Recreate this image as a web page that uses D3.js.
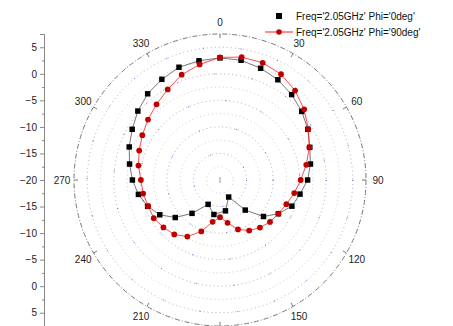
<!DOCTYPE html>
<html>
<head>
<meta charset="utf-8">
<script src="https://cdn.jsdelivr.net/npm/d3@7"></script>
<style>
  body { margin: 0; background: #fff; }
  svg { display: block; font-family: "Liberation Sans", Arial, sans-serif; }
</style>
</head>
<body>
<svg id="chart" width="453" height="326"></svg>
<script>
// angle in degrees (clockwise from top), gain in dB
var blackAngles = [0, 10, 20, 30, 40, 50, 60, 70, 80, 90, 100, 110, 120, 130, 140, 153, 170, 190, 206,
  220, 230, 240, 250, 260, 270, 280, 290, 300, 310, 320, 330, 340, 350];
var blackValues = [3.0, 2.9, 2.4, 1.8, 1.0, 0.1, -0.9, -2.0, -2.7, -3.5, -4.7, -5.6, -7.3, -9.3, -12.6, -16.4, -14.1, -13.4, -14.9,
  -11.8, -9.0, -6.9, -5.5, -4.4, -3.5, -2.7, -1.8, -0.9, 0.2, 1.2, 1.9, 2.6, 2.8];

var redAngles = [0, 10, 20, 30, 40, 50, 60, 70, 80, 90, 100, 110, 120, 130, 140, 150, 160, 170, 180,
  190, 200, 210, 220, 230, 240, 250, 260, 270, 280, 290, 300, 310, 320, 330, 340, 350];
var redValues = [3.1, 3.5, 3.5, 3.0, 2.0, 0.7, -0.8, -2.1, -3.5, -4.8, -5.8, -6.7, -7.3, -7.7, -8.3, -9.0, -10.1, -11.8, -13.0,
  -12.0, -9.7, -7.7, -6.6, -6.1, -5.6, -5.6, -5.3, -5.1, -4.4, -3.8, -3.1, -2.3, -1.4, -0.3, 1.1, 2.1];

var angleTicks = [0, 30, 60, 90, 120, 150, 180, 210, 240, 270, 300, 330];
var angleLabels = [0, 30, 60, 90, 120, 150, 210, 240, 270, 300, 330]; // 180 falls below the frame
var gridValues = [-17.5, -15, -12.5, -10, -7.5, -5, -2.5, 0, 2.5, 5];
var axisTicksTop = [5, 0, -5, -10, -15, -20];
var axisTicksBottom = [-15, -10, -5, 0, 5];
var seriesNames = ["Freq='2.05GHz' Phi='0deg'", "Freq='2.05GHz' Phi='90deg'"];

var svg = d3.select("#chart");
var cx = 220, cy = 180, R = 146;

var r = d3.scaleLinear().domain([-20, 7.5]).range([0, R]);
var rad = function (deg) { return deg * Math.PI / 180; };

var g = svg.append("g").attr("transform", "translate(" + cx + "," + cy + ")");

// grid circles
g.selectAll(".grid").data(gridValues).enter().append("circle")
  .attr("r", function (d) { return r(d); })
  .attr("fill", "none")
  .attr("stroke", function (d) { return d % 5 === 0 ? "#999" : "#bbb"; })
  .attr("stroke-width", 0.8)
  .attr("stroke-dasharray", "1,3");

// a few blue dots on the major circles
g.selectAll(".gridb").data(gridValues.filter(function (d) { return d % 5 === 0; })).enter().append("circle")
  .attr("r", function (d) { return r(d); })
  .attr("fill", "none")
  .attr("stroke", "#4455ee")
  .attr("stroke-width", 1)
  .attr("stroke-dasharray", "1,37");

// outer circle
g.append("circle")
  .attr("r", R)
  .attr("fill", "none")
  .attr("stroke", "#777")
  .attr("stroke-width", 1)
  .attr("stroke-dasharray", "5,2,1,2");

// angular ticks
g.selectAll(".atick").data(angleTicks).enter().append("line")
  .attr("x1", function (d) { return Math.sin(rad(d)) * (R - 4); })
  .attr("y1", function (d) { return -Math.cos(rad(d)) * (R - 4); })
  .attr("x2", function (d) { return Math.sin(rad(d)) * R; })
  .attr("y2", function (d) { return -Math.cos(rad(d)) * R; })
  .attr("stroke", "#777");

// angular labels
g.selectAll(".alabel").data(angleLabels).enter().append("text")
  .attr("x", function (d) { return Math.sin(rad(d)) * 158; })
  .attr("y", function (d) { return -Math.cos(rad(d)) * 158; })
  .attr("text-anchor", "middle")
  .attr("dy", "0.35em")
  .attr("font-size", 10)
  .attr("fill", "#222")
  .text(function (d) { return d; });

// center mark
g.append("line").attr("x1", 0).attr("x2", 0).attr("y1", -3).attr("y2", 3).attr("stroke", "#999");

// series
function drawSeries(angles, values, lineColor, fillColor, shape) {
  var pts = angles.map(function (a, i) { return [rad(a), r(values[i])]; });
  var line = d3.lineRadial()
    .angle(function (d) { return d[0]; })
    .radius(function (d) { return d[1]; })
    .curve(d3.curveLinearClosed);
  g.append("path")
    .attr("d", line(pts))
    .attr("fill", "none")
    .attr("stroke", lineColor)
    .attr("stroke-width", 0.8);
  var sym = d3.symbol().type(shape).size(shape === d3.symbolSquare ? 30 : 26);
  g.selectAll(null).data(pts).enter().append("path")
    .attr("d", sym)
    .attr("transform", function (d) {
      return "translate(" + (Math.sin(d[0]) * d[1]) + "," + (-Math.cos(d[0]) * d[1]) + ")";
    })
    .attr("fill", fillColor);
}
drawSeries(blackAngles, blackValues, "#555", "#000", d3.symbolSquare);
drawSeries(redAngles, redValues, "#ff2020", "#c00000", d3.symbolCircle);

// radial axis on the left (mirrored)
var axisX = 44;
var yTop = d3.scaleLinear().domain([-20, 7.5]).range([cy, cy - R]);
var yBot = d3.scaleLinear().domain([-20, 7.5]).range([cy, cy + R]);

function drawAxis(scale, ticks, minor) {
  var a = svg.append("g").attr("transform", "translate(" + axisX + ",0)");
  a.call(d3.axisLeft(scale).tickValues(ticks).tickSize(4).tickPadding(3).tickFormat(d3.format("d")));
  a.append("g").call(d3.axisLeft(scale).tickValues(minor).tickSize(2).tickFormat(""));
  a.selectAll("path.domain").attr("stroke", "#888");
  a.selectAll("line").attr("stroke", "#888");
  a.selectAll("text").attr("font-size", 10).attr("fill", "#222")
    .attr("font-family", "'Liberation Sans', Arial, sans-serif");
}
drawAxis(yTop, axisTicksTop, [7.5, 2.5, -2.5, -7.5, -12.5, -17.5]);
drawAxis(yBot, axisTicksBottom, [-17.5, -12.5, -7.5, -2.5, 2.5, 7.5]);

// legend
var legend = svg.append("g").attr("transform", "translate(265,16)");
legend.append("rect").attr("x", 11).attr("y", -3).attr("width", 6).attr("height", 6).attr("fill", "#000");
legend.append("text").attr("x", 31).attr("y", 0).attr("dy", "0.35em")
  .attr("font-size", 10).attr("fill", "#111").text(seriesNames[0]);
legend.append("line").attr("x1", 0).attr("x2", 28).attr("y1", 16).attr("y2", 16)
  .attr("stroke", "#ff2020").attr("stroke-width", 1);
legend.append("circle").attr("cx", 14).attr("cy", 16).attr("r", 2.8).attr("fill", "#c00000");
legend.append("text").attr("x", 31).attr("y", 16).attr("dy", "0.35em")
  .attr("font-size", 10).attr("fill", "#111").text(seriesNames[1]);
</script>
</body>
</html>
